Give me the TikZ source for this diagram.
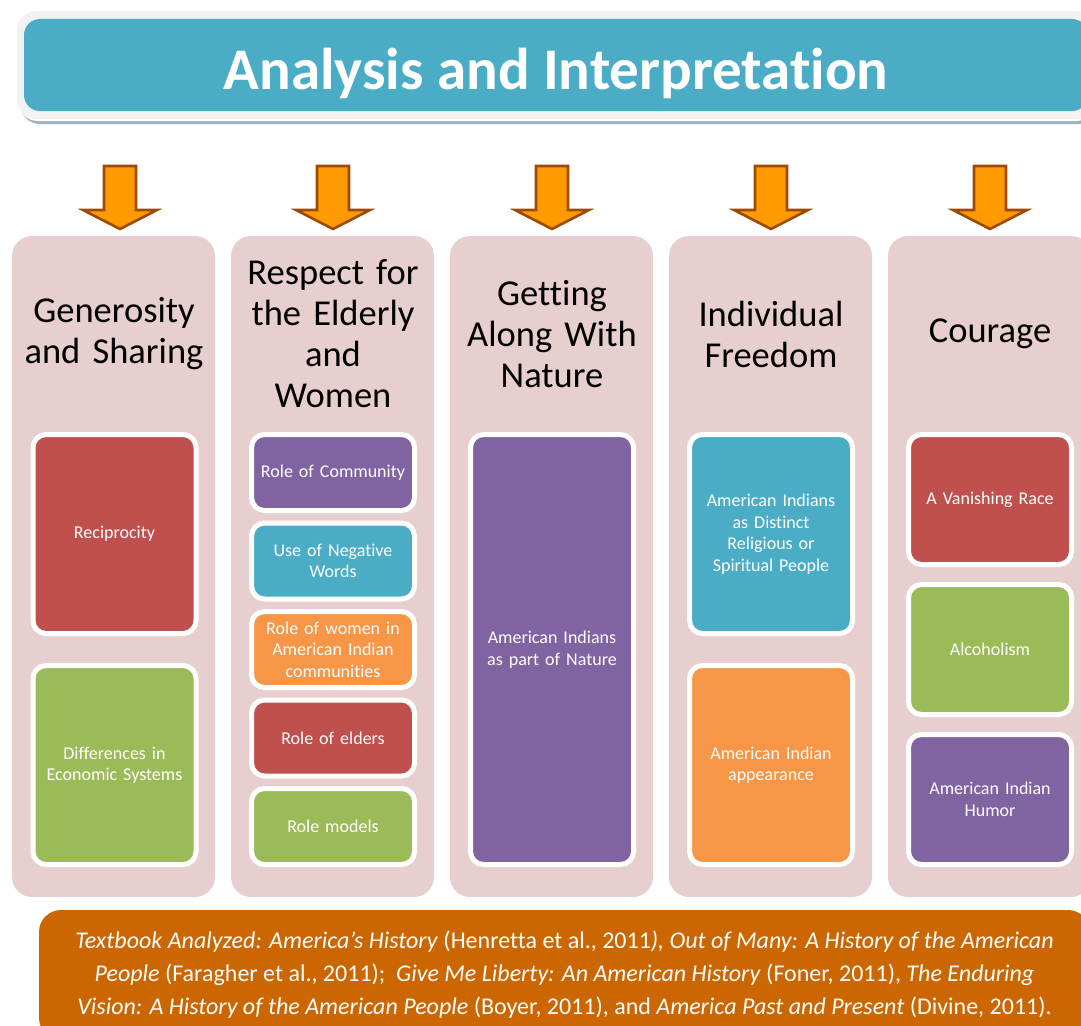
\documentclass[tikz,border=0pt]{standalone}
\usepackage{fontspec}
\setmainfont{Carlito}[Ligatures=NoCommon]
\usetikzlibrary{calc}
\definecolor{bannerblue}{HTML}{4BACC6}
\definecolor{bannergrey}{HTML}{F2F2F2}
\definecolor{bannershadow}{HTML}{9BB4C0}
\definecolor{colpink}{HTML}{E7CFD0}
\definecolor{arrowfill}{HTML}{FF9A00}
\definecolor{arrowedge}{HTML}{9C4A06}
\definecolor{itemred}{HTML}{C0504D}
\definecolor{itemgreen}{HTML}{9BBB59}
\definecolor{itempurple}{HTML}{8064A2}
\definecolor{itemteal}{HTML}{4BACC6}
\definecolor{itemorange}{HTML}{F79646}
\definecolor{footorange}{HTML}{CC6600}

\tikzset{
  colbox/.style={fill=colpink, rounded corners=20pt, minimum width=203pt, minimum height=661pt, inner sep=0pt},
  coltitle/.style={font=\fontsize{36.5}{41}\selectfont, align=center, text width=200pt, inner sep=0pt},
  item/.style={draw=white, line width=5pt, rounded corners=13pt, text=white, font=\fontsize{18}{21.5}\selectfont, align=center, text width=150pt, minimum width=163pt, inner sep=0pt},
  downarrow/.style={fill=arrowfill, draw=arrowedge, line width=2.6pt, line join=miter},
}

\begin{document}
\begin{tikzpicture}[x=1pt, y=-1pt]
\useasboundingbox (0,0) rectangle (1081,1025);
\clip (0,0) rectangle (1081,1025);
% title banner
\fill[bannershadow, rounded corners=20pt] (20,16) rectangle (1098,124);
\fill[white, rounded corners=20pt] (18,13) rectangle (1096,121);
\fill[bannergrey, rounded corners=20pt] (17,11) rectangle (1095,119);
\node[fill=bannerblue, rounded corners=16pt, minimum width=1064pt, minimum height=92pt, inner sep=0pt] (title) at (556,65) {};
\node[text=white, inner sep=0pt, font=\fontsize{59}{60}\selectfont\bfseries] (titletext) at ($(title.center)+(0,8)$) {Analysis and Interpretation};
% arrows
\foreach \x in {120,333,552,771,990} {
  \draw[downarrow] ({\x-16},166) -- ({\x+16},166) -- ({\x+16},210) -- ({\x+37},210) -- (\x,229)
    -- ({\x-37},210) -- ({\x-16},210) -- cycle;
}
% columns
\foreach \i/\x in {1/113.5, 2/332.5, 3/551.5, 4/770.5, 5/989.5} {
  \node[colbox] (col\i) at (\x,566.5) {};
}
\node[coltitle] (t1) at (114,334) {Generosity\\and Sharing};
\node[coltitle] (t2) at (333,334) {Respect for\\the Elderly\\and\\Women};
\node[coltitle] (t3) at (552,334) {Getting\\Along With\\Nature};
\node[coltitle] (t4) at (771,334) {Individual\\Freedom};
\node[coltitle] (t5) at (990,334) {Courage};
% generosity
\node[item, fill=itemred, minimum height=199pt] (recip) at (114.5,534) {Reciprocity};
\node[item, fill=itemgreen, minimum height=199pt] (econ) at (114.5,765) {Differences in\\Economic Systems};
% respect
\node[item, fill=itempurple, minimum height=76pt] (commun) at (333,472.5) {Role of Community};
\node[item, fill=itemteal, minimum height=76pt] (negwords) at (333,561) {Use of Negative\\Words};
\node[item, fill=itemorange, minimum height=76pt] (women) at (333,649.5) {Role of women in\\American Indian\\communities};
\node[item, fill=itemred, minimum height=76pt] (elders) at (333,738) {Role of elders};
\node[item, fill=itemgreen, minimum height=76pt] (models) at (333,826.5) {Role models};
% nature
\node[item, fill=itempurple, minimum height=430pt] (nature) at (552,649.5) {American Indians\\as part of Nature};
% freedom
\node[item, fill=itemteal, minimum height=199pt] (relig) at (771,534) {American Indians\\as Distinct\\Religious or\\Spiritual People};
\node[item, fill=itemorange, minimum height=199pt] (appear) at (771,765) {American Indian\\appearance};
% courage
\node[item, fill=itemred, minimum height=130pt] (vanish) at (990,499.5) {A Vanishing Race};
\node[item, fill=itemgreen, minimum height=130pt] (alcohol) at (990,649.5) {Alcoholism};
\node[item, fill=itempurple, minimum height=130pt] (humor) at (990,799.5) {American Indian\\Humor};
% sources
\node[fill=footorange, rounded corners=22pt, minimum width=1051pt, minimum height=130pt, inner sep=0pt,
  text=white, align=center, font=\fontsize{24}{33}\selectfont] (refs) at (564.5,975)
  {\textit{Textbook Analyzed: America’s History} (Henretta et al., 2011\textit{), Out of Many: A History of the American}\\
   \textit{People} (Faragher et al., 2011);\ \ \textit{Give Me Liberty: An American History} (Foner, 2011), \textit{The Enduring}\\
   \textit{Vision: A History of the American People} (Boyer, 2011), and \textit{America Past and Present} (Divine, 2011).};
\end{tikzpicture}
\end{document}
